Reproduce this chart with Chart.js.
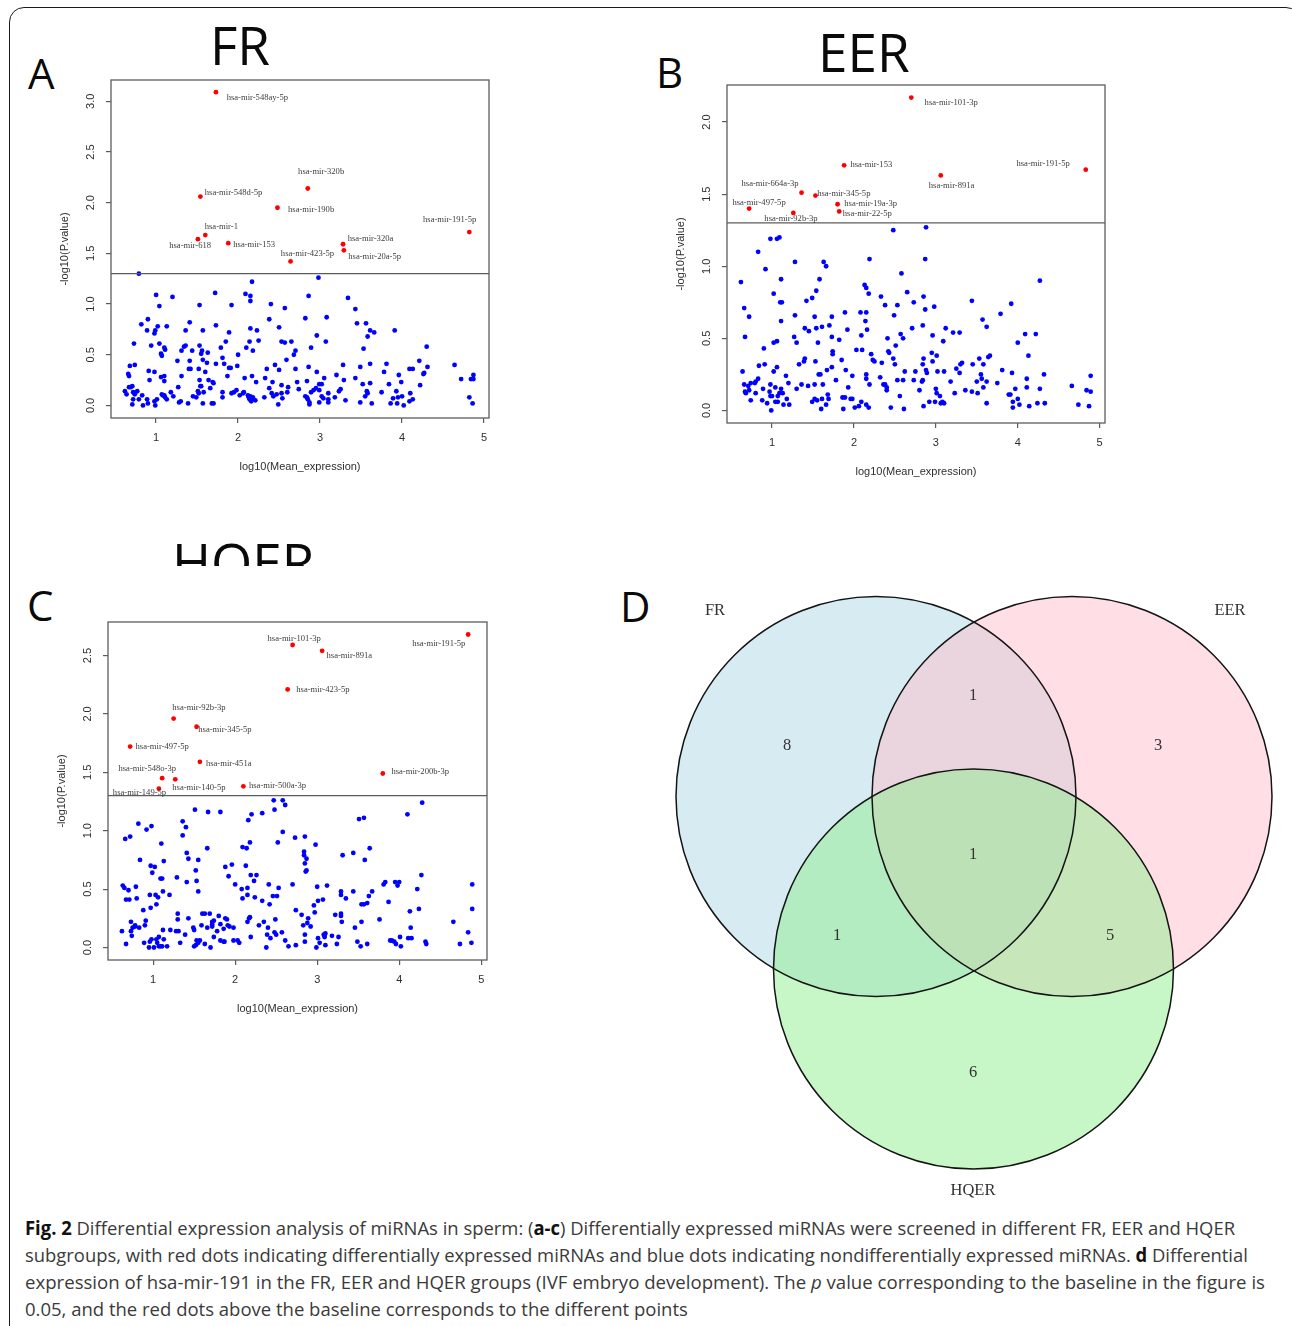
<!DOCTYPE html>
<html><head><meta charset="utf-8">
<script src="https://cdn.jsdelivr.net/npm/chart.js@4.4.1/dist/chart.umd.min.js"></script>
<style>
html,body{margin:0;padding:0;background:#fff;}
body{width:1292px;height:1326px;position:relative;overflow:hidden;font-family:"Open Sans",sans-serif;}
.frame{position:absolute;left:9px;top:7px;width:1292px;height:1360px;border:1.6px solid #1a1a1a;border-radius:15px;box-sizing:border-box;}
canvas{position:absolute;}
.big{position:absolute;font-family:"Open Sans",sans-serif;line-height:1;color:#0a0a0a;white-space:nowrap;}
.clip{position:absolute;overflow:hidden;}
.cap{position:absolute;left:25px;white-space:nowrap;font-size:19px;line-height:27px;height:27px;color:#3a3a3a;transform-origin:0 50%;font-family:"Open Sans",sans-serif;}
.cap b{color:#111;}
</style></head><body>
<div class="frame"></div>
<div class="big" style="left:28px;top:52px;font-size:42px;">A</div>
<div class="big" style="left:656px;top:51px;font-size:42px;">B</div>
<div class="big" style="left:27px;top:584px;font-size:42px;">C</div>
<div class="big" style="left:620px;top:585px;font-size:42px;">D</div>
<div class="big" style="left:210px;top:18px;font-size:53px;">FR</div>
<div class="big" style="left:818px;top:25px;font-size:53px;">EER</div>
<div class="clip" style="left:160px;top:530px;width:170px;height:36px;"><div class="big" style="left:12px;top:5px;font-size:53px;">HQER</div></div>

<div class="cap" id="cap1" style="top:1215px;"><b>Fig. 2</b> Differential expression analysis of miRNAs in sperm: (<b>a-c</b>) Differentially expressed miRNAs were screened in different FR, EER and HQER</div>
<div class="cap" id="cap2" style="top:1242px;">subgroups, with red dots indicating differentially expressed miRNAs and blue dots indicating nondifferentially expressed miRNAs. <b>d</b> Differential</div>
<div class="cap" id="cap3" style="top:1269px;">expression of hsa-mir-191 in the FR, EER and HQER groups (IVF embryo development). The <i>p</i> value corresponding to the baseline in the figure is</div>
<div class="cap" id="cap4" style="top:1296px;">0.05, and the red dots above the baseline corresponds to the different points</div>

<script>
// ---------------- DATA ----------------
const xTicks = [1, 2, 3, 4, 5];
const xTickLabels = ['1', '2', '3', '4', '5'];
const pThreshold = 0.05;

const aYTicks = [0, 0.5, 1, 1.5, 2, 2.5, 3];
const aYTickLabels = ['0.0', '0.5', '1.0', '1.5', '2.0', '2.5', '3.0'];
const bYTicks = [0, 0.5, 1, 1.5, 2];
const bYTickLabels = ['0.0', '0.5', '1.0', '1.5', '2.0'];
const cYTicks = [0, 0.5, 1, 1.5, 2, 2.5];
const cYTickLabels = ['0.0', '0.5', '1.0', '1.5', '2.0', '2.5'];

// FR: non-differential miRNAs [log10 mean expression, -log10 p]
const aBlue = [[0.79,1.30],[2.98,1.26],[2.17,1.22],[1.0,1.09],[1.20,1.07],[1.72,1.11],[2.09,1.10],[2.15,1.08],[2.15,1.03],[2.86,1.08],[3.34,1.06],[1.04,0.98],[1.53,0.99],[1.92,0.99],[2.40,1.00],[2.57,0.96],[3.43,0.95],
[0.82,0.80],[0.90,0.85],[1.41,0.82],[1.73,0.79],[2.38,0.85],[2.82,0.86],[3.08,0.87],[3.45,0.81],[3.56,0.81],
[0.89,0.74],[0.99,0.74],[0.98,0.71],[1.02,0.78],[1.13,0.78],[1.36,0.74],[1.57,0.74],[1.89,0.72],[2.15,0.76],[2.23,0.74],[2.50,0.77],[2.96,0.69],[3.61,0.74],[3.66,0.72],[3.91,0.74],[3.58,0.68],
[0.73,0.61],[0.94,0.59],[1.04,0.61],[1.10,0.57],[1.11,0.55],[1.06,0.51],[1.07,0.49],[1.34,0.58],[1.36,0.59],[1.31,0.54],[1.44,0.54],[1.53,0.59],[1.56,0.54],[1.55,0.51],[1.63,0.52],[1.79,0.57],[1.85,0.63],[2.14,0.63],[2.10,0.57],[2.18,0.54],[2.25,0.64],[2.53,0.63],[2.57,0.62],[2.65,0.63],[2.70,0.54],[2.89,0.57],[3.07,0.63],[3.53,0.56],[4.30,0.58],
[2.0,0.50],[1.81,0.47],[1.26,0.44],[1.41,0.44],[1.57,0.45],[1.83,0.41],[1.99,0.39],[1.73,0.41],[1.62,0.42],[2.45,0.40],[2.50,0.35],[2.59,0.45],[2.68,0.50],[2.86,0.38],[3.28,0.40],[3.49,0.38],[3.61,0.41],[3.81,0.41],[3.78,0.33],[4.21,0.44],[4.31,0.38],[4.64,0.40],[0.68,0.39],[0.74,0.40],[1.40,0.36],[1.42,0.36],[1.52,0.36],[1.60,0.33],[1.89,0.37],[1.91,0.37],[2.35,0.36],[2.70,0.36],[2.96,0.33],[4.09,0.36],[4.13,0.36],[4.27,0.32],[4.26,0.31],
[0.91,0.34],[0.98,0.33],[0.66,0.31],[0.67,0.29],[0.92,0.25],[1.06,0.28],[1.10,0.29],[1.10,0.24],[1.31,0.29],[1.53,0.25],[1.55,0.19],[1.64,0.25],[1.69,0.23],[1.70,0.22],[1.87,0.29],[2.08,0.27],[2.17,0.29],[2.22,0.23],[2.33,0.27],[2.42,0.23],[2.53,0.20],[2.61,0.18],[2.72,0.23],[2.84,0.24],[2.74,0.16],[2.99,0.21],[3.02,0.21],[3.05,0.27],[3.20,0.30],[3.29,0.25],[3.43,0.27],[3.61,0.22],[3.52,0.21],[3.57,0.14],[3.84,0.21],[3.96,0.30],[3.99,0.23],[4.22,0.20],[4.84,0.26],[4.87,0.30],[4.87,0.26],[4.72,0.26],
[0.62,0.14],[0.64,0.11],[0.67,0.18],[0.69,0.18],[0.71,0.19],[0.72,0.13],[0.74,0.11],[0.77,0.14],[0.72,0.06],[0.71,0.01],[0.79,0.06],[0.83,0.10],[0.84,0.00],[0.89,0.06],[0.90,0.02],[0.98,0.04],[0.99,0.00],[1.01,0.06],[1.07,0.11],[1.08,0.10],[1.10,0.10],[1.11,0.08],[1.13,0.06],[1.18,0.13],[1.21,0.09],[1.27,0.18],[1.28,0.03],[1.30,0.04],[1.39,0.02],[1.45,0.09],[1.49,0.08],[1.51,0.14],[1.52,0.12],[1.54,0.19],[1.57,0.02],[1.58,0.13],[1.66,0.17],[1.68,0.02],[1.70,0.02],[1.81,0.13],[1.81,0.08],[1.92,0.12],[1.95,0.13],[1.98,0.15],[2.02,0.10],[2.06,0.12],[2.07,0.13],[2.12,0.10],[2.13,0.08],[2.14,0.06],[2.15,0.09],[2.17,0.06],[2.18,0.08],[2.21,0.05],[2.16,0.04],[2.32,0.08],[2.38,0.17],[2.41,0.12],[2.43,0.09],[2.47,0.11],[2.49,0.01],[2.53,0.12],[2.54,0.07],[2.60,0.13],[2.82,0.09],[2.84,0.08],[2.85,0.06],[2.87,0.03],[2.87,0.01],[2.89,0.13],[2.92,0.15],[2.95,0.17],[2.99,0.15],[3.02,0.09],[2.99,0.03],[3.04,0.07],[3.10,0.12],[3.10,0.06],[3.10,0.03],[3.18,0.08],[3.23,0.14],[3.25,0.16],[3.31,0.05],[3.49,0.03],[3.55,0.09],[3.58,0.12],[3.63,0.02],[3.75,0.13],[3.86,0.02],[3.89,0.07],[3.93,0.14],[3.94,0.02],[3.95,0.08],[4.00,0.09],[4.02,0.00],[4.10,0.12],[4.09,0.04],[4.13,0.06],[4.82,0.08],[4.86,0.02]];
// FR: differential miRNAs
const aRedNames = ['hsa-mir-548ay-5p','hsa-mir-320b','hsa-mir-548d-5p','hsa-mir-190b','hsa-mir-191-5p','hsa-mir-1','hsa-mir-618','hsa-mir-153','hsa-mir-320a','hsa-mir-20a-5p','hsa-mir-423-5p'];
const aRed = [[1.73,3.09],[2.85,2.14],[1.54,2.06],[2.48,1.95],[4.82,1.71],[1.60,1.68],[1.51,1.64],[1.88,1.60],[3.28,1.59],[3.29,1.53],[2.64,1.42]];

// EER
const bBlue = [[2.88,1.27],[2.48,1.25],[0.98,1.19],[1.06,1.19],[1.09,1.20],[0.83,1.10],[2.19,1.05],[2.87,1.05],[1.28,1.03],[1.63,1.03],[1.66,1.00],[0.92,0.98],[2.58,0.95],[4.27,0.90],[0.62,0.89],[1.11,0.91],[1.58,0.91],[2.13,0.87],[2.15,0.85],[2.18,0.81],[2.65,0.82],[1.54,0.83],[1.02,0.81],[2.33,0.79],[2.85,0.79],[1.49,0.78],[1.42,0.76],[1.10,0.75],[1.12,0.75],[2.38,0.73],[2.53,0.73],[2.73,0.75],[2.98,0.72],[3.44,0.76],[3.92,0.74],[0.66,0.71],[0.72,0.65],[1.11,0.62],[1.28,0.66],[1.73,0.65],[1.89,0.68],[2.08,0.68],[2.15,0.68],[2.14,0.62],[2.49,0.66],[2.71,0.57],[2.87,0.70],[3.79,0.67],[3.57,0.63],[3.62,0.58],[1.52,0.65],[1.54,0.57],[1.61,0.58],[1.70,0.59],[1.40,0.57],[1.45,0.55],[1.92,0.56],[2.16,0.56],[2.84,0.59],[3.12,0.57],[3.21,0.54],[3.29,0.54],[4.09,0.53],[4.22,0.53],[0.67,0.51],[1.27,0.51],[1.30,0.47],[1.02,0.47],[1.06,0.48],[1.56,0.47],[1.73,0.51],[1.82,0.49],[2.09,0.52],[2.41,0.50],[2.57,0.53],[2.60,0.50],[2.51,0.45],[2.96,0.52],[3.09,0.48],[4.00,0.47],[0.90,0.43],[2.03,0.42],[2.10,0.42],[2.21,0.39],[2.42,0.41],[2.43,0.40],[1.74,0.41],[1.74,0.39],[1.40,0.36],[1.39,0.34],[1.85,0.35],[2.48,0.36],[2.95,0.40],[3.01,0.38],[2.96,0.34],[2.85,0.36],[3.53,0.36],[3.66,0.38],[3.64,0.37],[4.13,0.38],[1.53,0.34],[1.33,0.32],[2.50,0.32],[2.84,0.32],[3.30,0.32],[3.32,0.33],[3.45,0.32],[3.58,0.32],[0.84,0.31],[0.91,0.32],[1.06,0.30],[1.73,0.30],[2.34,0.33],[2.23,0.35],[2.25,0.34],[3.25,0.29],[3.29,0.26],[3.81,0.28],[0.64,0.27],[1.02,0.27],[1.67,0.28],[1.90,0.28],[2.88,0.28],[2.89,0.26],[2.62,0.27],[2.75,0.27],[3.02,0.27],[3.10,0.27],[3.93,0.26],[4.32,0.25],[4.89,0.24],[1.17,0.24],[1.57,0.25],[1.59,0.25],[1.98,0.24],[2.15,0.25],[3.55,0.25],[0.83,0.22],[2.15,0.22],[2.32,0.23],[2.53,0.21],[2.60,0.21],[2.73,0.21],[3.56,0.22],[4.11,0.22],[0.79,0.19],[0.74,0.19],[0.80,0.20],[1.20,0.19],[1.78,0.21],[2.36,0.18],[2.38,0.18],[2.40,0.14],[2.19,0.18],[2.83,0.20],[2.84,0.21],[3.18,0.20],[3.50,0.20],[3.62,0.20],[3.75,0.19],[4.66,0.17],[0.66,0.18],[0.71,0.17],[1.52,0.18],[1.62,0.18],[1.36,0.18],[1.44,0.17],[1.93,0.16],[1.04,0.16],[0.98,0.18],[2.80,0.14],[4.11,0.16],[3.89,0.11],[3.91,0.11],[3.97,0.15],[4.84,0.14],[4.89,0.13],[3.36,0.14],[3.44,0.13],[3.51,0.12],[3.58,0.16],[3.23,0.12],[3.00,0.15],[4.27,0.15],[0.67,0.13],[0.68,0.12],[0.80,0.12],[0.72,0.14],[0.89,0.15],[1.09,0.12],[1.11,0.15],[1.13,0.12],[0.97,0.13],[0.98,0.10],[1.00,0.10],[1.07,0.10],[1.18,0.08],[1.68,0.11],[1.69,0.08],[1.30,0.15],[2.40,0.16],[3.01,0.12],[3.05,0.10],[0.74,0.07],[0.88,0.07],[0.94,0.05],[1.04,0.06],[1.07,0.06],[1.14,0.04],[1.21,0.04],[1.49,0.06],[1.52,0.08],[1.55,0.07],[1.61,0.08],[1.66,0.04],[1.60,0.01],[1.86,0.09],[1.89,0.09],[1.96,0.08],[1.98,0.08],[1.87,0.01],[2.01,0.02],[2.06,0.03],[2.09,0.06],[2.15,0.04],[2.18,0.02],[2.45,0.02],[2.56,0.10],[2.61,0.01],[2.92,0.06],[2.99,0.06],[3.06,0.05],[3.08,0.06],[3.10,0.05],[2.85,0.03],[3.62,0.05],[3.94,0.06],[3.94,0.02],[4.02,0.04],[4.14,0.03],[4.24,0.05],[4.33,0.05],[4.74,0.04],[4.87,0.03],[0.99,0.00],[4.00,0.08]];
const bRedNames = ['hsa-mir-101-3p','hsa-mir-153','hsa-mir-191-5p','hsa-mir-891a','hsa-mir-664a-3p','hsa-mir-345-5p','hsa-mir-497-5p','hsa-mir-92b-3p','hsa-mir-19a-3p','hsa-mir-22-5p'];
const bRed = [[2.70,2.17],[1.88,1.70],[4.83,1.67],[3.06,1.63],[1.36,1.51],[1.53,1.49],[0.72,1.40],[1.26,1.37],[1.80,1.43],[1.82,1.38]];

// HQER
const cBlue = [[4.28,1.24],[2.47,1.26],[2.58,1.26],[2.48,1.18],[2.61,1.22],[1.51,1.18],[1.67,1.16],[1.82,1.16],[2.20,1.14],[2.33,1.15],[2.16,1.09],[1.36,1.08],[1.40,1.03],[3.51,1.10],[3.57,1.11],[4.10,1.14],[0.82,1.06],[0.98,1.04],[0.92,1.01],[1.36,0.96],[0.72,0.95],[0.66,0.93],[2.58,0.99],[2.73,0.94],[2.85,0.95],[2.98,0.88],[2.18,0.90],[2.52,0.90],[1.10,0.89],[1.66,0.85],[2.09,0.86],[2.14,0.85],[3.64,0.85],[3.44,0.81],[3.31,0.79],[1.41,0.81],[1.43,0.76],[2.84,0.82],[2.84,0.79],[2.87,0.76],[2.85,0.72],[3.58,0.75],[1.55,0.75],[0.84,0.75],[1.13,0.74],[0.97,0.70],[1.02,0.69],[1.96,0.71],[1.88,0.69],[2.13,0.70],[0.99,0.64],[1.52,0.66],[2.87,0.66],[2.86,0.65],[2.19,0.62],[2.26,0.62],[1.92,0.61],[4.27,0.62],[1.09,0.59],[1.11,0.59],[1.29,0.60],[1.41,0.56],[1.53,0.57],[2.23,0.57],[3.83,0.56],[3.95,0.56],[4.00,0.56],[3.98,0.53],[4.89,0.54],[0.63,0.53],[0.65,0.51],[0.79,0.52],[2.00,0.54],[2.41,0.54],[2.70,0.54],[3.12,0.53],[3.00,0.52],[3.81,0.54],[0.70,0.49],[2.08,0.50],[2.15,0.51],[2.53,0.51],[4.22,0.50],[1.12,0.48],[1.55,0.48],[2.15,0.45],[0.67,0.41],[0.71,0.41],[0.80,0.42],[0.96,0.45],[1.03,0.45],[1.06,0.43],[1.20,0.45],[2.09,0.42],[2.24,0.43],[2.33,0.40],[2.46,0.44],[2.51,0.44],[2.42,0.37],[3.01,0.40],[3.07,0.41],[3.29,0.45],[3.35,0.42],[3.44,0.48],[3.29,0.48],[3.67,0.48],[3.63,0.44],[3.54,0.37],[3.57,0.37],[3.61,0.38],[3.87,0.39],[0.97,0.34],[0.88,0.32],[1.04,0.37],[2.74,0.32],[2.96,0.36],[2.97,0.30],[4.13,0.31],[4.24,0.33],[4.89,0.33],[1.30,0.29],[1.30,0.24],[1.60,0.29],[1.63,0.29],[1.69,0.29],[1.80,0.27],[2.81,0.28],[3.22,0.28],[3.29,0.29],[3.29,0.27],[1.43,0.25],[1.72,0.22],[1.74,0.23],[1.88,0.25],[1.90,0.24],[2.17,0.25],[2.18,0.26],[2.15,0.22],[2.49,0.24],[2.89,0.25],[2.35,0.22],[3.30,0.22],[3.54,0.22],[3.76,0.24],[4.66,0.22],[0.73,0.22],[0.91,0.23],[0.90,0.19],[0.78,0.19],[0.78,0.18],[0.75,0.17],[0.83,0.17],[0.62,0.14],[0.73,0.14],[0.74,0.10],[1.12,0.15],[1.28,0.14],[1.31,0.14],[1.21,0.15],[1.39,0.11],[1.49,0.17],[1.50,0.15],[1.59,0.19],[1.66,0.17],[1.72,0.20],[1.72,0.18],[1.78,0.14],[1.82,0.20],[1.86,0.16],[1.91,0.19],[1.93,0.18],[1.98,0.17],[2.29,0.19],[2.40,0.17],[2.39,0.11],[2.43,0.08],[2.48,0.13],[2.50,0.11],[2.57,0.13],[2.83,0.19],[2.88,0.21],[2.92,0.18],[2.85,0.11],[3.46,0.17],[4.14,0.17],[4.84,0.13],[0.98,0.07],[0.96,0.05],[0.95,0.00],[1.01,0.00],[1.04,0.07],[1.05,0.04],[1.07,0.09],[1.07,0.01],[1.09,0.01],[1.11,0.01],[1.13,0.07],[1.17,0.01],[0.89,0.04],[0.67,0.03],[1.33,0.04],[1.50,0.01],[1.52,0.02],[1.53,0.06],[1.55,0.04],[1.57,0.06],[1.63,0.03],[1.70,0.00],[1.74,0.09],[1.82,0.06],[1.86,0.05],[1.87,0.05],[1.98,0.06],[2.03,0.06],[2.05,0.04],[2.19,0.09],[2.38,0.00],[2.61,0.06],[2.65,0.01],[2.74,0.02],[2.85,0.05],[2.99,0.00],[3.03,0.04],[3.01,0.08],[3.08,0.11],[3.09,0.10],[3.10,0.12],[3.09,0.09],[3.10,0.02],[3.18,0.10],[3.24,0.03],[3.26,0.09],[3.49,0.05],[3.53,0.01],[3.61,0.03],[3.89,0.06],[3.91,0.06],[3.94,0.05],[3.96,0.03],[4.01,0.09],[4.02,0.01],[4.11,0.08],[4.15,0.08],[4.32,0.05],[4.33,0.03],[4.74,0.03],[4.88,0.04]];
const cRedNames = ['hsa-mir-191-5p','hsa-mir-101-3p','hsa-mir-891a','hsa-mir-423-5p','hsa-mir-92b-3p','hsa-mir-345-5p','hsa-mir-497-5p','hsa-mir-451a','hsa-mir-548o-3p','hsa-mir-140-5p','hsa-mir-500a-3p','hsa-mir-200b-3p','hsa-mir-149-5p'];
const cRed = [[4.84,2.68],[2.70,2.59],[3.06,2.54],[2.64,2.21],[1.25,1.96],[1.53,1.89],[0.72,1.72],[1.57,1.59],[1.11,1.45],[1.27,1.44],[2.10,1.38],[3.80,1.49],[1.07,1.36]];

// Venn: counts per region
const vennSets = ['FR', 'EER', 'HQER'];
const vennRegions = ['FR only', 'EER only', 'HQER only', 'FR∩EER', 'FR∩HQER', 'EER∩HQER', 'FR∩EER∩HQER'];
const vennCounts = [8, 3, 6, 1, 1, 5, 1];

// ---------------- LAYOUT / STYLE ----------------
// label offsets (px) of each red label relative to its point
const aLabelOffsets = [[10.7,6],[-9.7,-17],[4.4,-4.3],[10.6,2],[-46.3,-12],[-0.6,-8.7],[-28.7,6.3],[5,2],[4.6,-5.3],[4.4,6.7],[-9.7,-7.7]];
const bLabelOffsets = [[13.3,5],[6.3,-0.7],[-69.3,-6.3],[-12,10],[-60,-9.3],[1.7,-1.7],[-16.7,-6],[-29,6.3],[6.7,-0.7],[3.6,2.7]];
const cLabelOffsets = [[-56,9.6],[-25,-6.6],[4.4,5],[8.6,0.4],[-1.3,-10.7],[1.7,2.6],[5.4,0],[6,1.7],[-43.7,-9.3],[-3,8],[5.6,-1],[8.6,-1.6],[-46,4.3]];

const AXIS_COLOR = '#5c5c5c';
const TEXT_COLOR = '#2e2e2e';
const AX_FONT = 'Liberation Sans';

const boxPlugin = {
  id: 'rbox',
  afterDatasetsDraw(ch) {
    const a = ch.chartArea, c = ch.ctx;
    c.save(); c.strokeStyle = AXIS_COLOR; c.lineWidth = 1.3;
    c.strokeRect(a.left, a.top, a.right - a.left, a.bottom - a.top);
    c.restore();
  }
};
const yLabPlugin = {
  id: 'ylab',
  afterDraw(ch, args, opts) {
    const s = ch.scales.y, c = ch.ctx;
    c.save(); c.fillStyle = TEXT_COLOR; c.font = '11px "' + AX_FONT + '"';
    c.textAlign = 'center'; c.textBaseline = 'middle';
    s.ticks.forEach((t, i) => {
      const y = s.getPixelForValue(t.value);
      c.save(); c.translate(ch.chartArea.left - 20, y); c.rotate(-Math.PI / 2);
      c.fillText(opts.labels[i], 0, 0); c.restore();
    });
    c.restore();
  }
};
const redLabPlugin = {
  id: 'redlab',
  afterDatasetsDraw(ch, args, opts) {
    const meta = ch.getDatasetMeta(opts.datasetIndex), c = ch.ctx;
    c.save(); c.fillStyle = '#3c3c3c'; c.font = '8.6px "Liberation Serif"';
    c.textAlign = 'left'; c.textBaseline = 'middle';
    meta.data.forEach((el, i) => {
      c.fillText(opts.names[i], el.x + opts.offsets[i][0], el.y + opts.offsets[i][1]);
    });
    c.restore();
  }
};

function makePanel(box, xRange, yRange, yTicks, yTickLabels, blue, red, redNames, offsets) {
  const cv = document.createElement('canvas');
  const W = box.r - box.l + 85, H = box.b - box.t + 85;
  cv.width = W; cv.height = H;
  cv.style.left = (box.l - 75) + 'px'; cv.style.top = (box.t - 10) + 'px';
  document.body.appendChild(cv);
  const thr = -Math.log10(pThreshold);
  new Chart(cv, {
    type: 'scatter',
    data: { datasets: [
      { data: blue.map(p => ({x: p[0], y: p[1]})), backgroundColor: '#0000ff', pointRadius: 2.4, borderWidth: 0, order: 3 },
      { type: 'line', data: [{x: xRange[0], y: thr}, {x: xRange[1], y: thr}], borderColor: AXIS_COLOR, borderWidth: 1.3, pointRadius: 0, order: 2 },
      { data: red.map(p => ({x: p[0], y: p[1]})), backgroundColor: '#ff0000', pointRadius: 2.4, borderWidth: 0, order: 1 }
    ]},
    options: {
      responsive: false, animation: false, devicePixelRatio: 1, events: [],
      layout: { padding: { left: 0, top: 10, right: 10, bottom: 0 } },
      plugins: {
        legend: { display: false }, tooltip: { enabled: false },
        ylab: { labels: yTickLabels },
        redlab: { datasetIndex: 2, names: redNames, offsets: offsets }
      },
      scales: {
        x: {
          type: 'linear', min: xRange[0], max: xRange[1],
          afterBuildTicks: s => { s.ticks = xTicks.map(v => ({value: v})); },
          afterFit: s => { s.height = 75; },
          grid: { display: true, drawOnChartArea: false, drawTicks: true, tickLength: 5, color: AXIS_COLOR, lineWidth: 1.2 },
          border: { display: false },
          ticks: { padding: 8.5, color: TEXT_COLOR, font: { family: AX_FONT, size: 11 }, maxRotation: 0, autoSkip: false,
                   callback: (v, i) => xTickLabels[i] },
          title: { display: true, text: 'log10(Mean_expression)', color: TEXT_COLOR, font: { family: AX_FONT, size: 11 }, padding: { top: 0, bottom: 19.4 } }
        },
        y: {
          type: 'linear', min: yRange[0], max: yRange[1],
          afterBuildTicks: s => { s.ticks = yTicks.map(v => ({value: v})); },
          afterFit: s => { s.width = 75; },
          grid: { display: true, drawOnChartArea: false, drawTicks: true, tickLength: 5, color: AXIS_COLOR, lineWidth: 1.2 },
          border: { display: false },
          ticks: { display: false },
          title: { display: true, text: '-log10(P.value)', color: TEXT_COLOR, font: { family: AX_FONT, size: 11 }, padding: { top: 22.4, bottom: 0 } }
        }
      }
    },
    plugins: [boxPlugin, yLabPlugin, redLabPlugin]
  });
}

makePanel({l:111, t:80, r:489, b:418}, [0.45, 5.06], [-0.124, 3.21], aYTicks, aYTickLabels, aBlue, aRed, aRedNames, aLabelOffsets);
makePanel({l:727, t:85, r:1105, b:423}, [0.45, 5.065], [-0.087, 2.257], bYTicks, bYTickLabels, bBlue, bRed, bRedNames, bLabelOffsets);
makePanel({l:108, t:622, r:487, b:960}, [0.45, 5.07], [-0.107, 2.787], cYTicks, cYTickLabels, cBlue, cRed, cRedNames, cLabelOffsets);

// ---------------- VENN ----------------
const vennCenters = [[0, 0], [0.98, 0], [0.4875, -0.8625]];   // layout, in radius units
const vennRadius = 1;
const vennFill = ['rgba(173,216,230,0.5)', 'rgba(255,192,203,0.5)', 'rgba(144,238,144,0.5)'];
const vennCountPos = [[-0.445,0.2525],[1.41,0.2525],[0.485,-1.3825],[0.485,0.5025],[-0.195,-0.6975],[1.17,-0.6975],[0.485,-0.2925]];
const vennNamePos = [[-0.805,0.9275],[1.77,0.9275],[0.485,-1.9725]];

const vennText = {
  id: 'venntext',
  afterDatasetsDraw(ch) {
    const xs = ch.scales.x, ys = ch.scales.y, c = ch.ctx;
    c.save(); c.fillStyle = '#333'; c.font = '16.5px "Liberation Serif"';
    c.textAlign = 'center'; c.textBaseline = 'middle';
    vennCounts.forEach((n, i) => c.fillText(String(n), xs.getPixelForValue(vennCountPos[i][0]), ys.getPixelForValue(vennCountPos[i][1])));
    vennSets.forEach((n, i) => c.fillText(n, xs.getPixelForValue(vennNamePos[i][0]), ys.getPixelForValue(vennNamePos[i][1])));
    c.restore();
  }
};
(function () {
  const cv = document.createElement('canvas');
  cv.width = 660; cv.height = 620; cv.style.left = '620px'; cv.style.top = '580px';
  document.body.appendChild(cv);
  const rad = ctx => { const s = ctx.chart.scales.x; return s.getPixelForValue(vennRadius) - s.getPixelForValue(0); };
  const ds = [];
  vennCenters.forEach((p, i) => ds.push({ label: vennSets[i], data: [{x: p[0], y: p[1]}], pointRadius: rad, backgroundColor: vennFill[i], borderWidth: 0, clip: false, order: 30 - i * 10 }));
  vennCenters.forEach((p, i) => ds.push({ label: vennSets[i] + ' outline', data: [{x: p[0], y: p[1]}], pointRadius: rad, backgroundColor: 'rgba(0,0,0,0)', borderColor: '#141414', borderWidth: 1.5, clip: false, order: 1 }));
  new Chart(cv, {
    type: 'scatter',
    data: { datasets: ds },
    options: {
      responsive: false, animation: false, devicePixelRatio: 1, events: [],
      layout: { padding: 0 },
      plugins: { legend: { display: false }, tooltip: { enabled: false } },
      scales: {
        x: { type: 'linear', min: -1.28, max: 2.02, display: false },
        y: { type: 'linear', min: -2.0175, max: 1.0825, display: false }
      }
    },
    plugins: [vennText]
  });
})();

// caption line widths
const capWidths = { cap1: 1210, cap2: 1223, cap3: 1240, cap4: 663 };
Object.keys(capWidths).forEach(id => {
  const el = document.getElementById(id);
  const w = el.scrollWidth;
  el.style.transform = 'scaleX(' + (capWidths[id] / w) + ')';
});
</script>
</body></html>
